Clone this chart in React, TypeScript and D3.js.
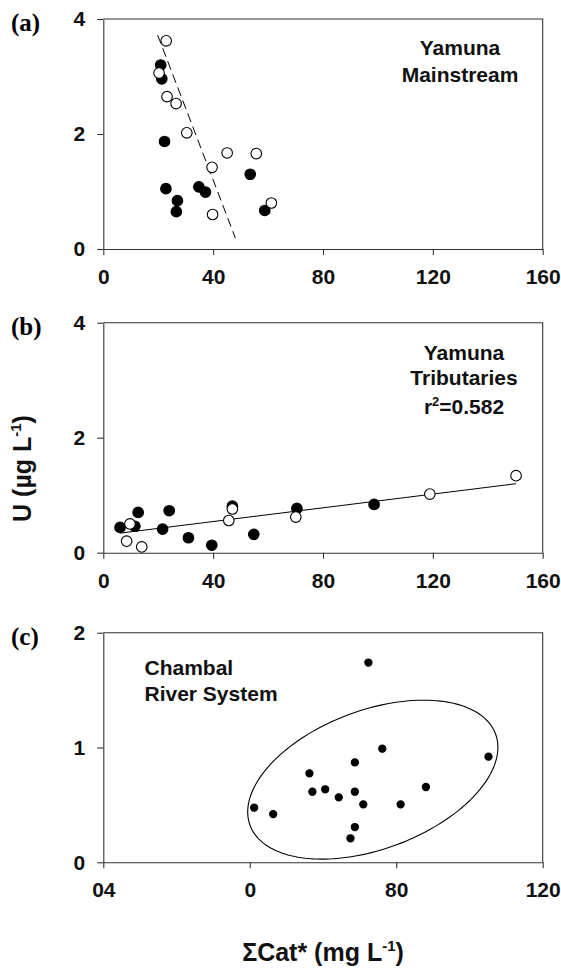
import React, { useRef, useEffect } from "react";
import { select, scaleLinear, axisLeft, axisBottom, line, range } from "d3";

// (a) Yamuna mainstream
const mainOpenX = [22.9, 20.3, 23.2, 26.5, 30.4, 39.6, 45.1, 55.7, 61.2, 39.8];
const mainOpenU = [3.62, 3.06, 2.65, 2.53, 2.02, 1.42, 1.67, 1.66, 0.8, 0.6];
const mainFilledX = [20.9, 21.3, 22.3, 22.8, 27.0, 26.6, 34.8, 37.2, 53.5, 58.8];
const mainFilledU = [3.2, 2.96, 1.87, 1.05, 0.84, 0.65, 1.08, 0.99, 1.3, 0.67];
const mainFitX = [19.8, 48.1];
const mainFitU = [3.72, 0.19];

// (b) Yamuna tributaries
const tribFilledX = [6.1, 11.5, 12.7, 21.6, 24.0, 31.0, 39.5, 47.0, 54.8, 70.5, 98.6];
const tribFilledU = [0.44, 0.46, 0.7, 0.41, 0.73, 0.26, 0.13, 0.81, 0.32, 0.77, 0.84];
const tribOpenX = [9.7, 8.5, 14.0, 45.7, 47.0, 70.1, 118.9, 150.3];
const tribOpenU = [0.5, 0.2, 0.1, 0.56, 0.76, 0.62, 1.02, 1.34];
const tribFitX = [6.1, 150.3];
const tribFitU = [0.34, 1.2];

// (c) Chambal river system
const chambalX = [72.4, 76.2, 105.2, 68.7, 56.3, 57.1, 60.6, 64.3, 68.7, 71.0, 81.2, 88.1, 41.2, 46.4, 68.7, 67.5];
const chambalU = [1.74, 0.99, 0.92, 0.87, 0.775, 0.615, 0.636, 0.566, 0.615, 0.505, 0.505, 0.656, 0.476, 0.42, 0.307, 0.209];
const ellipseCenter = [73.6, 0.72];
const ellipseAxisA = [33.5, 0.4];
const ellipseAxisB = [-6.7, 0.565];

const xTicks = [0, 40, 80, 120, 160];
const uTicks = [0, 2, 4];
const chambalXTicks = [0, 40, 80, 120];
const chambalXTickLabels = ["04", "0", "80", "120"];
const chambalUTicks = [0, 1, 2];

const sans = "'Liberation Sans', Arial, sans-serif";
const serif = "'Liberation Serif', 'Times New Roman', serif";
const LEFT = 103.3;
const RIGHT = 542.7;

const App = () => {
  const svgRef = useRef(null);

  useEffect(() => {
    document.body.style.margin = "0";
    const svg = select(svgRef.current);
    svg.selectAll("*").remove();

    const panel = (top, bottom, xDomain, yDomain, xT, xLab, yT, letter) => {
      const x = scaleLinear().domain(xDomain).range([LEFT, RIGHT]);
      const y = scaleLinear().domain(yDomain).range([bottom, top]);
      const g = svg.append("g");

      const xa = g.append("g")
        .attr("transform", `translate(0,${bottom})`)
        .call(axisBottom(x).tickValues(xT).tickSize(6).tickSizeOuter(0).tickPadding(14)
          .tickFormat((d, i) => xLab ? xLab[i] : String(d)));
      const ya = g.append("g")
        .attr("transform", `translate(${LEFT},0)`)
        .call(axisLeft(y).tickValues(yT).tickSize(6).tickSizeOuter(0).tickPadding(12)
          .tickFormat(d => String(d)));
      [xa, ya].forEach(ax => {
        ax.selectAll("path, line").attr("stroke", "#333").attr("stroke-width", 1.1);
        ax.selectAll("text").attr("font-family", sans).attr("font-weight", "bold")
          .attr("font-size", 21).attr("fill", "#111");
      });
      // top + right frame
      g.append("path")
        .attr("d", `M${LEFT},${top}H${RIGHT}V${bottom}`)
        .attr("fill", "none").attr("stroke", "#333").attr("stroke-width", 1.1);

      g.append("text").attr("x", 11).attr("y", top + 12)
        .attr("font-family", serif).attr("font-weight", "bold").attr("font-size", 25)
        .text(letter);
      return { g, x, y };
    };

    const dots = (p, xs, ys, r, filled) => {
      p.g.append("g").selectAll("circle").data(xs).enter().append("circle")
        .attr("cx", d => p.x(d))
        .attr("cy", (d, i) => p.y(ys[i]))
        .attr("r", r)
        .attr("fill", filled ? "#000" : "#fff")
        .attr("stroke", "#000")
        .attr("stroke-width", 1.1);
    };

    const label = (g, lines, xPos, y0, anchor) => {
      lines.forEach((l, i) => {
        const t = g.append("text").attr("x", xPos).attr("y", y0[i])
          .attr("text-anchor", anchor).attr("font-family", sans)
          .attr("font-weight", "bold").attr("font-size", 21).attr("fill", "#111");
        if (Array.isArray(l)) {
          t.append("tspan").text(l[0]);
          t.append("tspan").attr("dy", -8).attr("font-size", 13).text(l[1]);
          t.append("tspan").attr("dy", 8).text(l[2]);
        } else t.text(l);
      });
    };

    // (a)
    const a = panel(19, 249, [0, 160], [0, 4], xTicks, null, uTicks, "(a)");
    a.g.append("path")
      .attr("d", line().x(d => a.x(d)).y((d, i) => a.y(mainFitU[i]))(mainFitX))
      .attr("fill", "none").attr("stroke", "#000").attr("stroke-width", 1)
      .attr("stroke-dasharray", "9,5");
    dots(a, mainFilledX, mainFilledU, 5.3, true);
    dots(a, mainOpenX, mainOpenU, 5.3, false);
    label(a.g, ["Yamuna", "Mainstream"], 460, [55, 82], "middle");

    // (b)
    const b = panel(322.7, 552.7, [0, 160], [0, 4], xTicks, null, uTicks, "(b)");
    b.g.append("path")
      .attr("d", line().x(d => b.x(d)).y((d, i) => b.y(tribFitU[i]))(tribFitX))
      .attr("fill", "none").attr("stroke", "#000").attr("stroke-width", 1);
    dots(b, tribFilledX, tribFilledU, 5.3, true);
    dots(b, tribOpenX, tribOpenU, 5.3, false);
    label(b.g, ["Yamuna", "Tributaries", ["r", "2", "=0.582"]], 464, [360, 385, 413.5], "middle");

    // (c)
    const c = panel(632.7, 862.3, [0, 120], [0, 2], chambalXTicks, chambalXTickLabels, chambalUTicks, "(c)");
    const ang = range(0, 2 * Math.PI + 0.01, Math.PI / 90);
    c.g.append("path")
      .attr("d", line()
        .x(t => c.x(ellipseCenter[0] + Math.cos(t) * ellipseAxisA[0] + Math.sin(t) * ellipseAxisB[0]))
        .y(t => c.y(ellipseCenter[1] + Math.cos(t) * ellipseAxisA[1] + Math.sin(t) * ellipseAxisB[1]))(ang))
      .attr("fill", "none").attr("stroke", "#000").attr("stroke-width", 1.1);
    dots(c, chambalX, chambalU, 3.6, true);
    label(c.g, ["Chambal", "River System"], 144.5, [675, 701], "start");

    // axis titles
    const yt = svg.append("text")
      .attr("transform", "translate(31,468.5) rotate(-90)")
      .attr("text-anchor", "middle").attr("font-family", sans)
      .attr("font-weight", "bold").attr("font-size", 25).attr("fill", "#111");
    yt.append("tspan").text("U (µg L");
    yt.append("tspan").attr("dy", -10).attr("font-size", 15).text("-1");
    yt.append("tspan").attr("dy", 10).text(")");

    const xt = svg.append("text")
      .attr("x", 323).attr("y", 961)
      .attr("text-anchor", "middle").attr("font-family", sans)
      .attr("font-weight", "bold").attr("font-size", 25).attr("fill", "#111");
    xt.append("tspan").text("ΣCat* (mg L");
    xt.append("tspan").attr("dy", -10).attr("font-size", 15).text("-1");
    xt.append("tspan").attr("dy", 10).text(")");
  }, []);

  return (
    <svg ref={svgRef} width={561} height={968} style={{ display: "block", background: "#fff" }} />
  );
};

export default App;
